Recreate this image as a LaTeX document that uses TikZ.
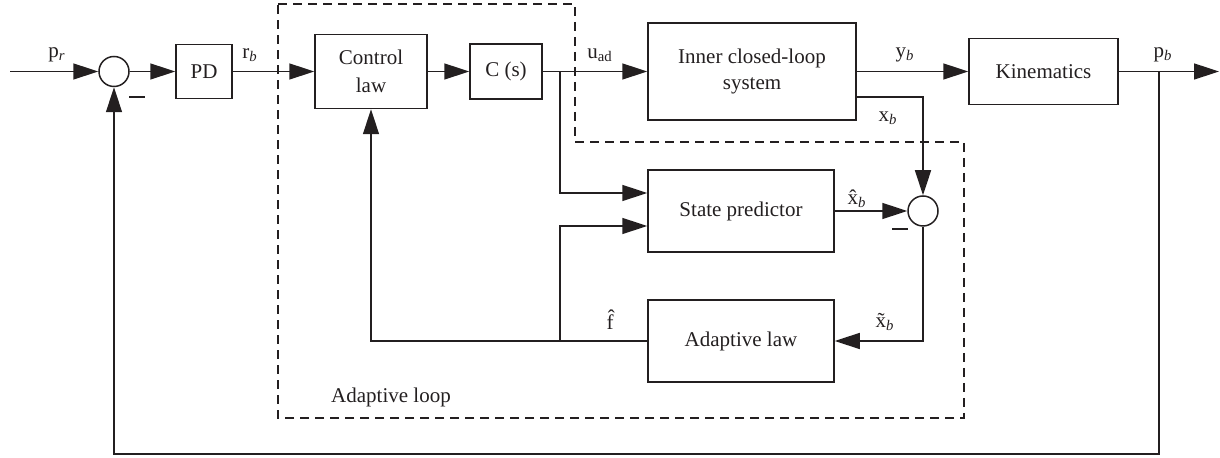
\documentclass[tikz,border=0pt]{standalone}
\usepackage{fontspec}
\setmainfont{Liberation Serif}
\usetikzlibrary{arrows.meta,calc}
\definecolor{ink}{HTML}{231F20}
\begin{document}
\begin{tikzpicture}[x=0.5pt,y=-0.5pt,
  every node/.style={text=ink,font=\fontsize{10.5pt}{14pt}\selectfont},
  blk/.style={draw=ink,line width=0.75pt,inner sep=0pt,align=center},
  sumc/.style={draw=ink,line width=0.75pt,circle,minimum size=15pt,inner sep=0pt},
  wire/.style={draw=ink,line width=0.75pt},
  arr/.style={wire,-{Triangle[length=12.5pt,width=8pt]}},
  lbl/.style={inner sep=0pt},
  loopbox/.style={draw=ink,line width=0.6pt,dash pattern=on 4.5pt off 3pt}]
\useasboundingbox (0,0) rectangle (1220,458);

% adaptive loop boundary
\draw[loopbox] (278,4) -- (575,4) -- (575,142) -- (964,142) -- (964,418) -- (278,418) -- cycle;
\node[lbl] (adl) at (391,397) {Adaptive loop};

% blocks
\node[sumc] (s1) at (114,71.5) {};
\node[blk,minimum width=28pt,minimum height=27pt] (pd) at (204,71.5) {PD};
\node[blk,minimum width=56pt,minimum height=37pt] (cl) at (371,71.5) {Control\\law};
\node[blk,minimum width=36pt,minimum height=27.5pt] (cs) at (506,71.5) {C (s)};
\node[blk,minimum width=104pt,minimum height=48.5pt,font=\fontsize{10.5pt}{13pt}\selectfont] (in) at (752,71.5) {Inner closed-loop\\system};
\node[blk,minimum width=74.5pt,minimum height=33pt] (kin) at (1043.5,71.5) {Kinematics};
\node[blk,minimum width=93pt,minimum height=41pt] (sp) at (741,211) {State predictor};
\node[blk,minimum width=93pt,minimum height=41pt] (al) at (741,341) {Adaptive law};
\node[sumc] (s2) at (923,211) {};

% coordinates
\coordinate (inp) at (10,71.5);
\coordinate (outp) at (1219,71.5);
\coordinate (bu) at (560,71.5);
\coordinate (bp) at (1159,71.5);
\coordinate (bx) at (856,97);
\coordinate (bf) at (560,341);
\coordinate (fb) at (1159,454);

% connectors
\draw[arr] (inp) -- (s1.west);
\draw[arr] (s1.east) -- (pd.west);
\draw[arr] (pd.east) -- (cl.west);
\draw[arr] (cl.east) -- (cs.west);
\draw[arr] (cs.east) -- (in.west);
\draw[arr] (in.east) -- (kin.west);
\draw[arr] (kin.east) -- (outp);
\draw[arr] (bu) -- (560,193) -- (sp.west |- 0,193);
\draw[arr] (bp) -- (fb) -| (s1.south);
\draw[arr] (bx) -| (s2.north);
\draw[arr] (sp.east) -- (s2.west);
\draw[arr] (s2.south) |- (al.east);
\draw[arr] (al.west) -- (cl.south |- al.west) -- (cl.south);
\draw[arr] (bf) -- (560,226) -- (sp.west |- 0,226);

% labels
\node[lbl] (lpr) at (57,55) {p\textsubscript{\itshape r}};
\node[lbl] (lrb) at (250,55) {r\textsubscript{\itshape b}};
\node[lbl] (lua) at (600,55) {u\textsubscript{ad}};
\node[lbl] (lyb) at (905,55) {y\textsubscript{\itshape b}};
\node[lbl] (lpb) at (1163,55) {p\textsubscript{\itshape b}};
\node[lbl] (lxb) at (888,118) {x\textsubscript{\itshape b}};
\node[lbl] (lxh) at (857,199) {\^{x}\textsubscript{\itshape b}};
\node[lbl] (lxt) at (885,322) {\~{x}\textsubscript{\itshape b}};
\node[lbl] (lfh) at (610,320) {\^{f}};
\node[lbl] (m1) at (137,97) {\rule{8pt}{0.7pt}};
\node[lbl] (m2) at (900,229) {\rule{8pt}{0.7pt}};
\end{tikzpicture}
\end{document}
